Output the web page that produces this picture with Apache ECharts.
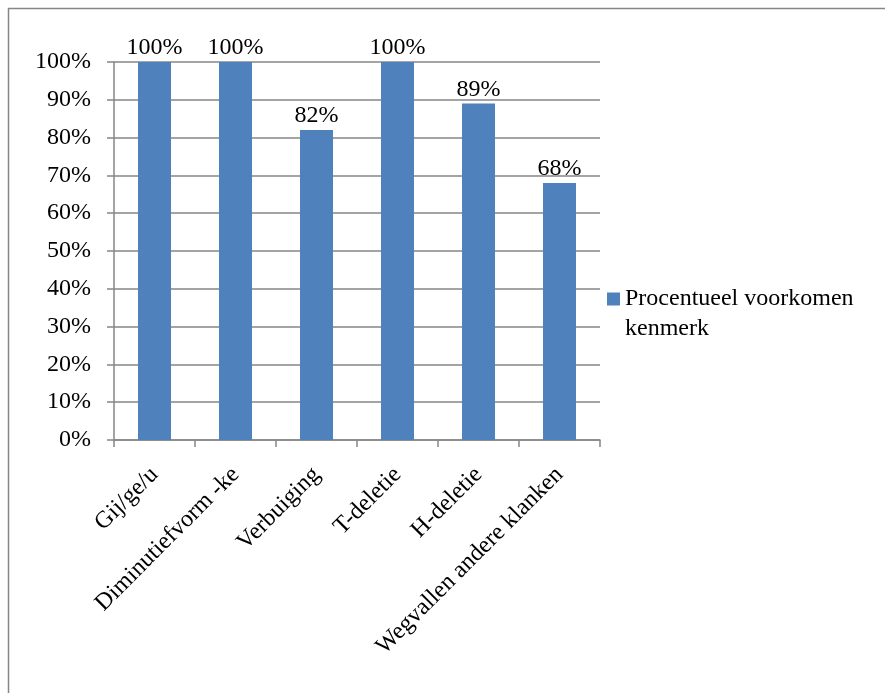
<!DOCTYPE html>
<html>
<head>
<meta charset="utf-8">
<script src="https://cdn.jsdelivr.net/npm/echarts@6/dist/echarts.min.js"></script>
<style>
  html, body { margin: 0; padding: 0; background: #fff; }
  #chart { width: 885px; height: 693px; }
</style>
</head>
<body>
<div id="chart"></div>
<script>
// Kenmerken en hun procentueel voorkomen
const categories = ['Gij/ge/u', 'Diminutiefvorm -ke', 'Verbuiging', 'T-deletie', 'H-deletie', 'Wegvallen andere klanken'];
const values = [100, 100, 82, 100, 89, 68];
const seriesName = 'Procentueel voorkomen kenmerk';
const yTicks = { min: 0, max: 100, step: 10 };

const FONT = '"Liberation Serif", "Times New Roman", serif';
const FS = 24;
const GRAY = '#868686';
const BLUE = '#4f81bd';

const chart = echarts.init(document.getElementById('chart'), null, { renderer: 'canvas' });

chart.setOption({
  animation: false,
  backgroundColor: '#ffffff',
  textStyle: { fontFamily: FONT, color: '#000' },
  graphic: [{
    type: 'rect',
    shape: { x: 8.5, y: 8.5, width: 900, height: 720 },
    style: { fill: 'none', stroke: GRAY, lineWidth: 1.5 },
    silent: true
  }],
  grid: { left: 114, right: 285, top: 62, bottom: 253, containLabel: false },
  legend: {
    left: 607,
    top: 254,
    padding: 0,
    itemWidth: 13,
    itemHeight: 13,
    itemGap: 0,
    itemStyle: { borderWidth: 0 },
    icon: 'rect',
    // leading blank line keeps the swatch level with the first text line
    formatter: () => '\nProcentueel voorkomen\nkenmerk',
    textStyle: { fontFamily: FONT, fontSize: FS, color: '#000', lineHeight: 30 },
    data: [seriesName]
  },
  xAxis: {
    type: 'category',
    data: categories,
    axisLine: { show: true, lineStyle: { color: GRAY, width: 1.5 } },
    axisTick: { show: true, length: 7, alignWithLabel: false, lineStyle: { color: GRAY, width: 1.5 } },
    axisLabel: { rotate: 45, margin: 31, interval: 0, fontFamily: FONT, fontSize: FS, color: '#000' },
    splitLine: { show: false }
  },
  yAxis: {
    type: 'value',
    min: yTicks.min,
    max: yTicks.max,
    interval: yTicks.step,
    axisLine: { show: true, lineStyle: { color: GRAY, width: 1.5 } },
    axisTick: { show: true, length: 7, lineStyle: { color: GRAY, width: 1.5 } },
    axisLabel: { formatter: '{value}%', margin: 23, fontFamily: FONT, fontSize: FS, color: '#000' },
    splitLine: { show: true, lineStyle: { color: GRAY, width: 1.5 } }
  },
  series: [{
    name: seriesName,
    type: 'bar',
    data: values,
    barWidth: 33,
    itemStyle: { color: BLUE },
    label: {
      show: true,
      position: 'top',
      distance: 2,
      formatter: '{c}%',
      fontFamily: FONT,
      fontSize: FS,
      color: '#000'
    }
  }]
});
</script>
</body>
</html>
